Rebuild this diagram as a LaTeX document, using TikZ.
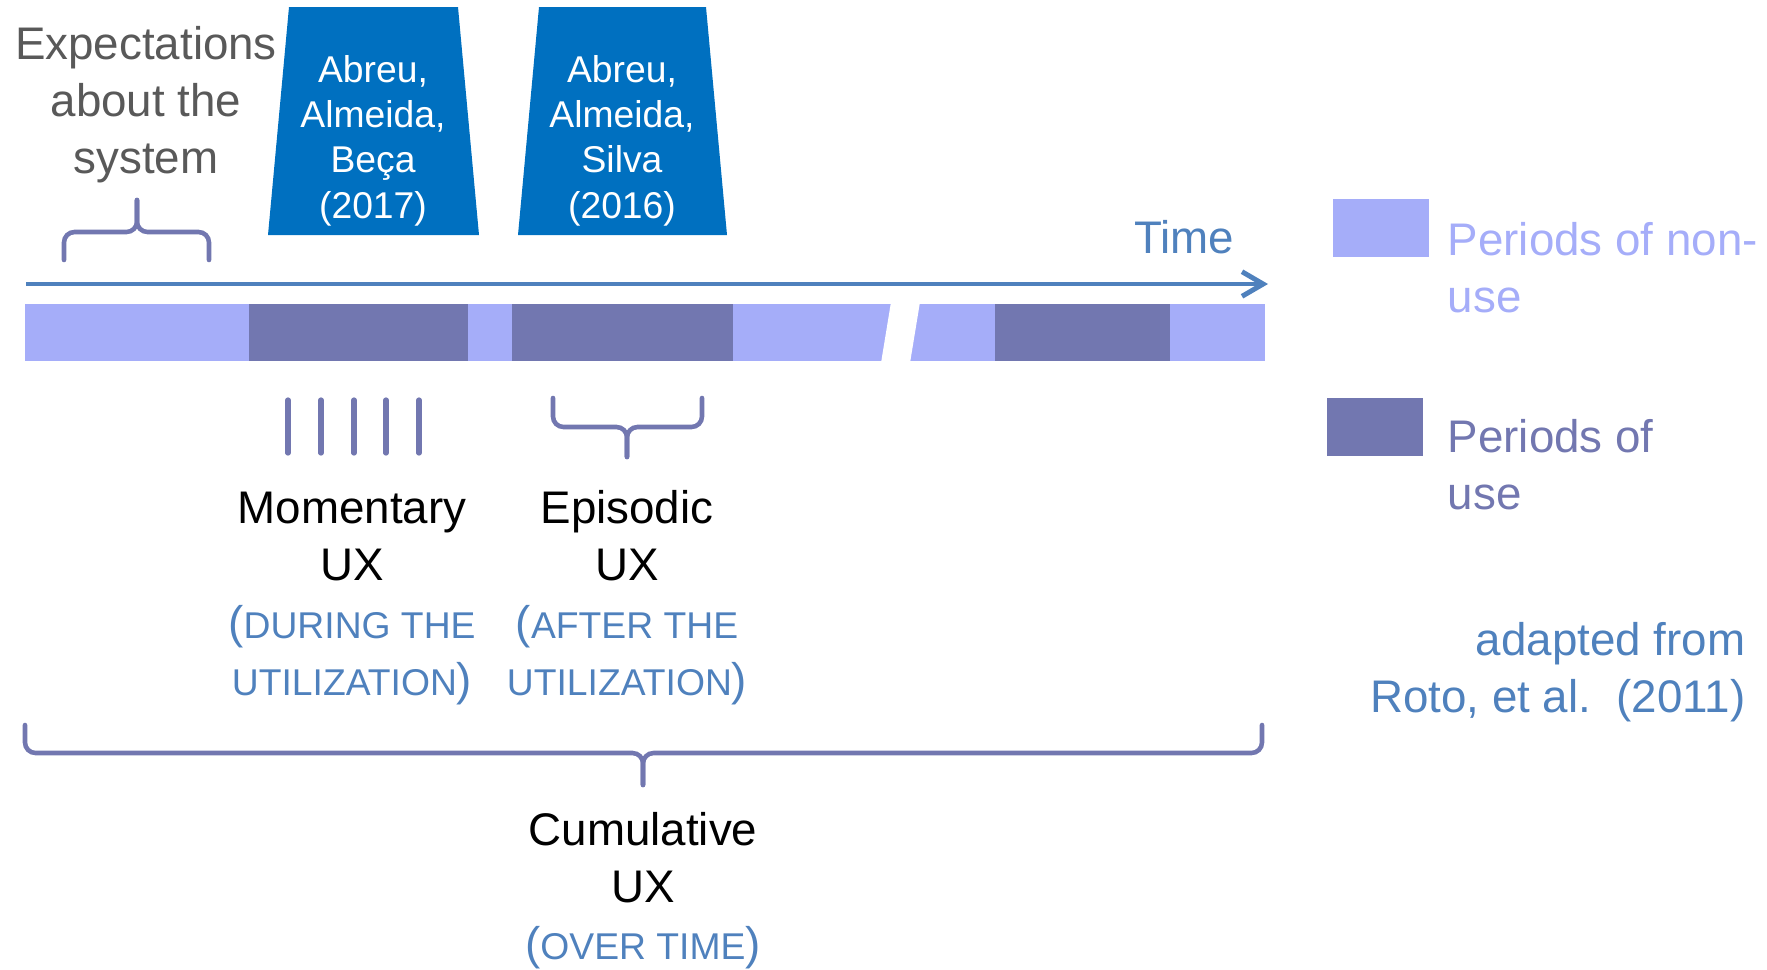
\documentclass[tikz,border=0pt]{standalone}
\usepackage{fontspec}
\setmainfont{Liberation Sans}
\usetikzlibrary{arrows.meta}
\definecolor{boxblue}{HTML}{0070C0}
\definecolor{axisblue}{HTML}{4F81BD}
\definecolor{idle}{HTML}{A5ADF9}
\definecolor{active}{HTML}{7277B0}
\definecolor{greytext}{HTML}{595959}
\newcommand{\mainsize}{\fontsize{13}{16.2}\selectfont}
\newcommand{\boxsize}{\fontsize{10.6}{12.8}\selectfont}
\newcommand{\capsize}{\fontsize{10.6}{16.2}\selectfont}

\begin{document}
\begin{tikzpicture}[x=0.01cm,y=-0.01cm,
  txt/.style={font=\mainsize,align=center,anchor=base,inner sep=0pt},
  note/.style={txt,text=axisblue},
  paper/.style={fill=boxblue},
  bracket/.style={draw=active,line width=1.3pt,rounded corners=3pt,line cap=round},
  tick/.style={draw=active,line width=1.5pt,line cap=round},
  timeline/.style={draw=axisblue,line width=1.4pt,-{Straight Barb[length=6pt,width=7pt]}}]
\useasboundingbox (0,0) rectangle (1767,969);

% expectations (base = last line)
\node (expect) [txt,text=greytext] at (146,173) {Expectations\\about the\\system};
\draw[bracket] (64,260) |- (137,232) -- (137,200);
\draw[bracket] (209,260) |- (137,232) -- (137,200);

% the two papers
\fill[paper] (268,235) -- (289,7) -- (458,7) -- (479,235) -- cycle;
\fill[paper] (518,235) -- (539,7) -- (706,7) -- (727,235) -- cycle;
\node (paperA) [txt,font=\boxsize,text=white] at (373,218) {Abreu,\\Almeida,\\Beça\\(2017)};
\node (paperB) [txt,font=\boxsize,text=white] at (622,218) {Abreu,\\Almeida,\\Silva\\(2016)};

% time axis
\node (time) [txt,text=axisblue] at (1184,253) {Time};
\coordinate (t0) at (26,284);
\coordinate (t1) at (1268,284);
\draw[timeline] (t0) -- (t1);

% periods bar
\fill[idle] (25,304) rectangle (1265,361);
\fill[active] (249,304) rectangle (468,361);
\fill[active] (512,304) rectangle (733,361);
\fill[active] (995,304) rectangle (1170,361);
\fill[white] (891,302) -- (920,302) -- (910,363) -- (881,363) -- cycle;

% legend
\fill[idle] (1333,199) rectangle (1429,257);
\fill[active] (1327,398) rectangle (1423,456);
\node (keyidle) [txt,align=left,anchor=base west,text=idle] at (1447,312) {Periods of non-\\use};
\node (keyuse) [txt,align=left,anchor=base west,text=active] at (1447,509) {Periods of\\use};
\node (source) [txt,align=right,anchor=base east,text=axisblue] at (1746,712) {adapted from\\Roto, et al.\ \ (2011)};

% momentary
\draw[tick] (288,400) -- (288,453);
\draw[tick] (321,400) -- (321,453);
\draw[tick] (354,400) -- (354,453);
\draw[tick] (386,400) -- (386,453);
\draw[tick] (419,400) -- (419,453);
\node (moment) [txt] at (352,580) {Momentary\\UX};
\node (momentnote) [note] at (352,695) {({\capsize DURING THE}\\{\capsize UTILIZATION})};

% episodic
\draw[bracket] (553,398) |- (627,427) -- (627,457);
\draw[bracket] (702,398) |- (627,427) -- (627,457);
\node (episode) [txt] at (627,580) {Episodic\\UX};
\node (episodenote) [note] at (627,695) {({\capsize AFTER THE}\\{\capsize UTILIZATION})};

% cumulative
\draw[bracket] (25,725) |- (643,753) -- (643,785);
\draw[bracket] (1262,725) |- (643,753) -- (643,785);
\node (cumul) [txt] at (643,902) {Cumulative\\UX};
\node (cumulnote) [note] at (643,959) {({\capsize OVER TIME})};
\end{tikzpicture}
\end{document}
